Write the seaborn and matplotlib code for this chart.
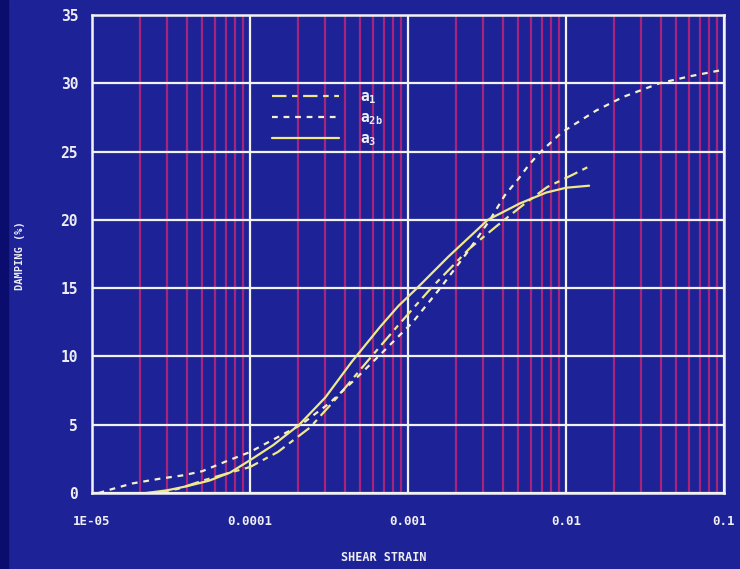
import matplotlib
matplotlib.use("Agg")
import numpy as np
import pandas as pd
import seaborn as sns
import matplotlib.pyplot as plt
from matplotlib.ticker import LogLocator, NullFormatter
from matplotlib.patches import Rectangle

# Damping curves (shear strain, damping %)
strain_a1 = [2.5e-5, 3.5e-5, 5e-5, 7e-5, 1e-4, 1.5e-4, 2.4e-4, 3.5e-4, 5.4e-4,
             8.7e-4, 1.4e-3, 2.45e-3, 3.6e-3, 4.5e-3, 5.5e-3, 7.6e-3, 1.1e-2, 1.45e-2]
damping_a1 = [0.0, 0.3, 0.9, 1.4, 1.9, 3.0, 4.8, 6.9, 9.5,
              12.3, 15.0, 17.9, 19.5, 20.4, 21.2, 22.4, 23.3, 24.0]

strain_a2b = [1.1e-5, 1.4e-5, 1.8e-5, 2.7e-5, 3.8e-5, 5e-5, 7e-5, 1e-4, 1.45e-4,
              2.1e-4, 3.2e-4, 4.6e-4, 6.5e-4, 1.07e-3, 1.6e-3, 2.4e-3, 3.3e-3,
              4.1e-3, 5.0e-3, 5.8e-3, 6.8e-3, 9.4e-3, 1.55e-2, 2.3e-2, 3.9e-2,
              6e-2, 1.0e-1]
damping_a2b = [0.0, 0.35, 0.7, 1.05, 1.3, 1.6, 2.3, 3.0, 4.0,
               5.0, 6.6, 8.3, 10.0, 12.5, 15.0, 17.7, 20.0,
               21.8, 23.0, 24.0, 24.9, 26.4, 28.0, 29.0, 30.0,
               30.5, 31.0]

strain_a3 = [2.2e-5, 3e-5, 4e-5, 5.5e-5, 7.5e-5, 1e-4, 1.4e-4, 2.05e-4, 3.0e-4,
             4.4e-4, 6.7e-4, 8.7e-4, 1.14e-3, 1.8e-3, 3.2e-3, 5.1e-3, 7.5e-3,
             1.0e-2, 1.4e-2]
damping_a3 = [0.0, 0.2, 0.5, 0.9, 1.5, 2.4, 3.5, 5.0, 7.0,
              9.6, 12.2, 13.7, 15.0, 17.3, 20.0, 21.2, 22.0,
              22.35, 22.5]

series_labels = [r"$\mathregular{a_{1}}$", r"$\mathregular{a_{2b}}$", r"$\mathregular{a_{3}}$"]
xtick_values = [1e-5, 1e-4, 1e-3, 1e-2, 1e-1]
xtick_labels = ["1E-05", "0.0001", "0.001", "0.01", "0.1"]
ytick_values = [0, 5, 10, 15, 20, 25, 30, 35]

BG = "#1d2397"
EDGE = "#0b0d6e"
MAJOR = "#f2f2f2"
MINOR = "#a8237a"
TEXT = "#eeeef4"
YELLOW = "#efe98a"
PALE = "#f4f1cc"

sns.set_theme(style="white", rc={
    "axes.facecolor": BG,
    "figure.facecolor": BG,
    "axes.edgecolor": MAJOR,
    "axes.linewidth": 1.8,
    "text.color": TEXT,
    "xtick.color": TEXT,
    "ytick.color": TEXT,
    "axes.labelcolor": TEXT,
})
plt.rcParams["font.family"] = ["DejaVu Sans Mono", "DejaVu Sans"]
plt.rcParams["font.weight"] = "bold"

fig = plt.figure(figsize=(7.4, 5.69), dpi=100, facecolor=BG)
fig.patches.append(Rectangle((0, 0), 8 / 740, 1, transform=fig.transFigure,
                             color=EDGE, zorder=0))
ax = fig.add_axes([0.12432, 0.13357, 0.85405, 0.84007])
ax.set_facecolor(BG)

df_a1 = pd.DataFrame({"strain": strain_a1, "damping": damping_a1})
df_a2b = pd.DataFrame({"strain": strain_a2b, "damping": damping_a2b})
df_a3 = pd.DataFrame({"strain": strain_a3, "damping": damping_a3})

sns.lineplot(data=df_a1, x="strain", y="damping", ax=ax, color=YELLOW, lw=1.6,
             linestyle=(0, (6.5, 2.5, 2.5, 2.5)), label=series_labels[0])
sns.lineplot(data=df_a2b, x="strain", y="damping", ax=ax, color=PALE, lw=1.6,
             linestyle=(0, (2.6, 2.6)), label=series_labels[1])
sns.lineplot(data=df_a3, x="strain", y="damping", ax=ax, color=YELLOW, lw=1.6,
             linestyle="-", label=series_labels[2])

ax.set_xscale("log")
ax.set_xlim(1e-5, 1e-1)
ax.set_ylim(0, 35)
ax.set_xticks(xtick_values)
ax.set_xticklabels(xtick_labels)
ax.xaxis.set_minor_locator(LogLocator(base=10, subs=np.arange(2, 10)))
ax.xaxis.set_minor_formatter(NullFormatter())
ax.set_yticks(ytick_values)
ax.set_yticklabels([str(v) for v in ytick_values])

ax.set_axisbelow(True)
ax.grid(which="major", axis="both", color=MAJOR, lw=1.6)
ax.grid(which="minor", axis="x", color=MINOR, lw=1.6)
ax.grid(which="minor", axis="y", visible=False)

ax.tick_params(axis="both", which="both", length=0)
ax.tick_params(axis="y", labelsize=10.5, pad=10)
ax.tick_params(axis="x", labelsize=9, pad=16)
for lab in ax.get_xticklabels() + ax.get_yticklabels():
    lab.set_fontweight("bold")

for sp in ax.spines.values():
    sp.set_color(MAJOR)
    sp.set_linewidth(1.8)

ax.set_xlabel("SHEAR STRAIN", fontsize=8.5, fontweight="bold")
ax.set_ylabel("DAMPING (%)", fontsize=7.5, fontweight="bold")
ax.xaxis.set_label_coords(0.462, -0.121)
ax.yaxis.set_label_coords(-0.106, 0.496)

leg = ax.legend(loc="upper left", bbox_to_anchor=(0.285, 0.845), frameon=False,
                fontsize=10.5, handlelength=4.6, handletextpad=1.4,
                labelspacing=0.3, borderpad=0, borderaxespad=0)
for t in leg.get_texts():
    t.set_color(TEXT)

fig.savefig("out.png", dpi=100, facecolor=BG)
